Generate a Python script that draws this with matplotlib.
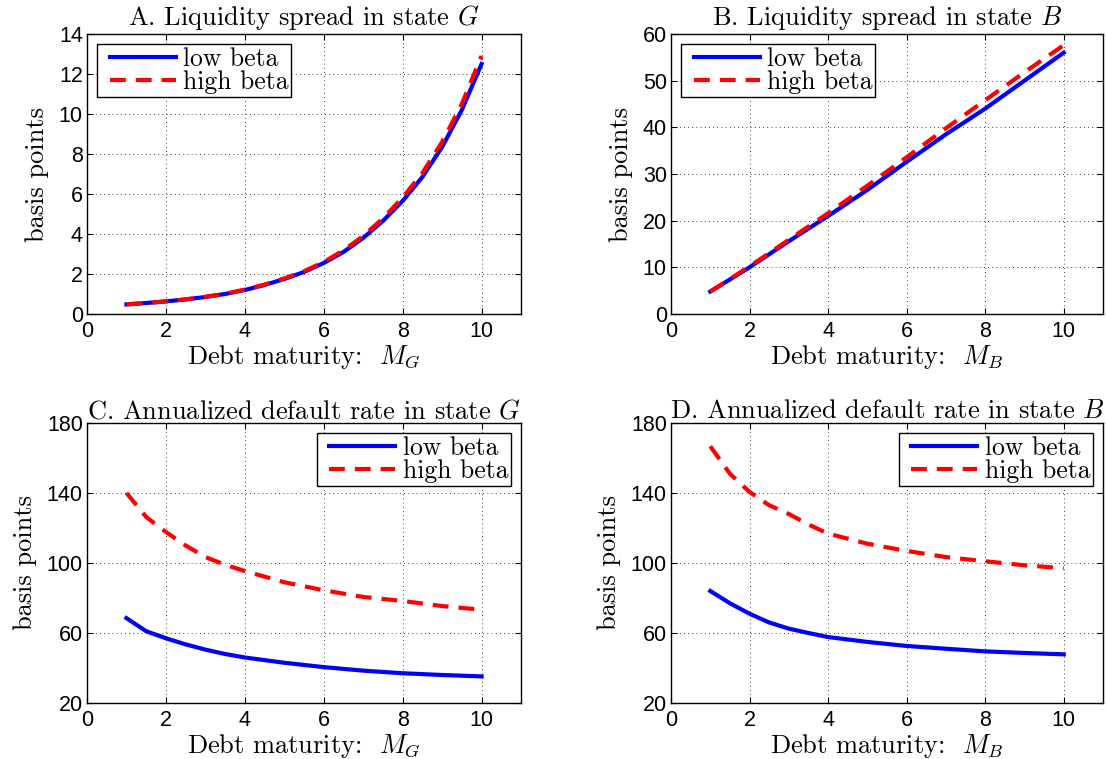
import matplotlib
matplotlib.use("Agg")
import matplotlib.pyplot as plt
from matplotlib.lines import Line2D
from matplotlib.legend_handler import HandlerLine2D

plt.rcParams['mathtext.fontset'] = 'cm'

# ---- data ----
x_half = [1, 1.5, 2, 2.5, 3, 3.5, 4, 4.5, 5, 5.5, 6, 6.5, 7, 7.5, 8, 8.5, 9, 9.5, 10]
a_low = [0.48, 0.55, 0.63, 0.73, 0.85, 1.0, 1.2, 1.45, 1.75, 2.1, 2.55, 3.1, 3.8, 4.65, 5.65, 6.85, 8.35, 10.2, 12.5]
a_high = [0.48, 0.55, 0.63, 0.73, 0.86, 1.01, 1.22, 1.47, 1.78, 2.14, 2.6, 3.18, 3.9, 4.78, 5.82, 7.05, 8.6, 10.5, 12.9]

x_int = [1, 2, 3, 4, 5, 6, 7, 8, 9, 10]
b_low = [4.8, 10.0, 15.6, 21.0, 26.6, 32.6, 38.5, 44.0, 50.0, 56.0]
b_high = [4.8, 10.2, 15.9, 21.6, 27.5, 33.6, 39.8, 45.8, 51.8, 57.6]

x_cd = [1, 1.5, 2, 2.5, 3, 3.5, 4, 5, 6, 7, 8, 9, 10]
c_low = [68.5, 61.0, 57.0, 53.5, 50.5, 48.0, 46.0, 43.0, 40.5, 38.5, 37.0, 36.0, 35.2]
c_high = [140.0, 126.3, 117.7, 110.0, 103.4, 99.0, 95.4, 89.0, 84.4, 80.6, 78.3, 75.4, 73.3]
d_low = [84.0, 77.0, 71.0, 66.0, 62.5, 60.0, 57.7, 54.9, 52.6, 51.0, 49.5, 48.6, 47.8]
d_high = [166.7, 151.0, 140.6, 133.0, 128.0, 122.0, 116.8, 111.0, 106.9, 103.4, 101.0, 98.7, 97.0]

labels = ['low beta', 'high beta']
titles = ['A. Liquidity spread in state $G$',
          'B. Liquidity spread in state $B$',
          'C. Annualized default rate in state $G$',
          'D. Annualized default rate in state $B$']
xlabels = ['Debt maturity:  $M_G$', 'Debt maturity:  $M_B$',
           'Debt maturity:  $M_G$', 'Debt maturity:  $M_B$']

fig = plt.figure(figsize=(11.06, 7.59), dpi=100)
W, H = 1106, 759
def rect(l, r, t, b):
    return [l / W, 1 - b / H, (r - l) / W, (b - t) / H]

axA = fig.add_axes(rect(87, 521, 34, 314))
axB = fig.add_axes(rect(671, 1103, 34, 314))
axC = fig.add_axes(rect(87, 521, 423, 703))
axD = fig.add_axes(rect(671, 1103, 423, 703))

serif = 'cmr10'
specs = [
    (axA, x_half, a_low, a_high, (0, 14), list(range(0, 15, 2)), 'upper left', 6.5),
    (axB, x_int, b_low, b_high, (0, 60), list(range(0, 61, 10)), 'upper left', 6.5),
    (axC, x_cd, c_low, c_high, (20, 180), [20, 60, 100, 140, 180], 'upper right', 3.5),
    (axD, x_cd, d_low, d_high, (20, 180), [20, 60, 100, 140, 180], 'upper right', 3.5),
]

for i, (ax, xs, lo, hi, ylim, yt, loc, tpad) in enumerate(specs):
    ax.plot(xs, lo, color='#0000ff', lw=3, label=labels[0])
    ax.plot(xs, hi, color='#ff0000', lw=3, ls=(0, (3.8, 2.4)), label=labels[1])
    ax.set_xlim(0, 11)
    ax.set_ylim(*ylim)
    ax.set_xticks([0, 2, 4, 6, 8, 10])
    ax.set_yticks(yt)
    ax.grid(True, color='black', ls=(0, (1, 4)), lw=0.6)
    ax.tick_params(direction='in', top=True, right=True, length=4, width=0.8,
                   labelsize=15.5)
    ax.tick_params(axis='x', pad=5)
    ax.tick_params(axis='y', pad=3)
    for lab in ax.get_xticklabels() + ax.get_yticklabels():
        lab.set_fontfamily('Liberation Sans')
    for s in ax.spines.values():
        s.set_linewidth(1.0)
    ax.set_title(titles[i], fontsize=19, fontfamily=serif, pad=tpad)
    ax.set_xlabel(xlabels[i], fontsize=19, fontfamily=serif, labelpad=1)
    ax.set_ylabel('basis points', fontsize=19, fontfamily=serif, labelpad=7)
    leg = ax.legend(loc=loc, prop={'family': serif, 'size': 18.5},
                    handlelength=2.95, labelspacing=0.0, borderpad=0.1,
                    handletextpad=0.3, fancybox=False, framealpha=1,
                    edgecolor='black', borderaxespad=0.4,
                    handler_map={Line2D: HandlerLine2D(xpad=0.4)})
    leg.get_frame().set_linewidth(1.0)

fig.savefig('out.png', dpi=100)
